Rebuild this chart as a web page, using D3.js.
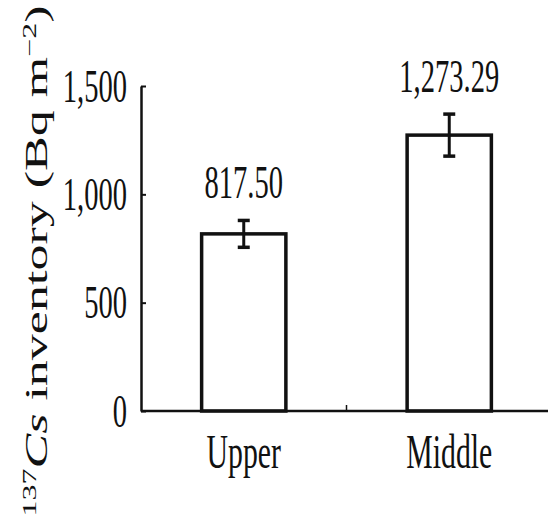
<!DOCTYPE html>
<html>
<head>
<meta charset="utf-8">
<script src="https://cdn.jsdelivr.net/npm/d3@7"></script>
<style>
  html, body { margin: 0; padding: 0; background: #fff; }
  svg { display: block; }
  text { font-family: "Liberation Serif", "Times New Roman", serif; fill: #111; }
</style>
</head>
<body>
<svg id="chart"></svg>
<script>
const categories = ['Upper', 'Middle'];
const values = [817.50, 1273.29];
const errors = [62, 97];
const yTicks = [0, 500, 1000, 1500];

const width = 548, height = 516;
const squash = 0.62; // the picture's text is narrow, like a squeezed Times

const svg = d3.select('#chart')
              .attr('width', width)
              .attr('height', height);

const x = d3.scaleBand().domain(categories).range([141, 552]).padding(0);
const y = d3.scaleLinear().domain([0, 1500]).range([411, 86]);
const barW = x.bandwidth() * 0.41;

// bars
svg.selectAll('rect.bar')
   .data(values)
   .enter().append('rect')
   .attr('class', 'bar')
   .attr('x', (d, i) => x(categories[i]) + x.bandwidth() / 2 - barW / 2)
   .attr('y', d => y(d))
   .attr('width', barW)
   .attr('height', d => y(0) - y(d))
   .style('fill', '#fff')
   .style('stroke', '#111')
   .style('stroke-width', 3.5);

// error bars
const eb = svg.selectAll('g.err')
              .data(values)
              .enter().append('g')
              .attr('class', 'err')
              .attr('transform', (d, i) => `translate(${x(categories[i]) + x.bandwidth() / 2}, 0)`);
eb.append('line')
  .attr('y1', (d, i) => y(d + errors[i]))
  .attr('y2', (d, i) => y(d - errors[i]))
  .style('stroke', '#111').style('stroke-width', 3);
eb.append('line')
  .attr('x1', -6).attr('x2', 6)
  .attr('y1', (d, i) => y(d + errors[i]))
  .attr('y2', (d, i) => y(d + errors[i]))
  .style('stroke', '#111').style('stroke-width', 3.5);
eb.append('line')
  .attr('x1', -6).attr('x2', 6)
  .attr('y1', (d, i) => y(d - errors[i]))
  .attr('y2', (d, i) => y(d - errors[i]))
  .style('stroke', '#111').style('stroke-width', 3.5);

// value labels
svg.selectAll('text.val')
   .data(values)
   .enter().append('text')
   .attr('class', 'val')
   .attr('transform', (d, i) =>
         `translate(${x(categories[i]) + x.bandwidth() / 2}, ${y(d + errors[i]) - 22}) scale(${squash},1)`)
   .style('text-anchor', 'middle')
   .style('font-size', '46px')
   .text(d => d3.format(',.2f')(d));

// y axis
const yAxis = svg.append('g')
   .attr('class', 'y-axis')
   .attr('transform', 'translate(141,0)')
   .call(d3.axisRight(y).tickValues(yTicks).tickSize(5).tickSizeOuter(0).tickFormat(d3.format(',')));
yAxis.select('.domain').style('stroke', '#111').style('stroke-width', 2.5);
yAxis.selectAll('.tick line').style('stroke', '#111').style('stroke-width', 2);
yAxis.selectAll('.tick text')
     .attr('x', -14 / squash)
     .attr('dy', '0.33em')
     .attr('transform', `scale(${squash},1)`)
     .style('text-anchor', 'end')
     .style('font-size', '46px')
     .style('font-family', '"Liberation Serif", serif')
     .style('fill', '#111');

// x axis
const xAxis = svg.append('g')
   .attr('class', 'x-axis')
   .attr('transform', 'translate(0,' + y(0) + ')');
xAxis.append('line')
     .attr('x1', x.range()[0]).attr('x2', x.range()[1])
     .style('stroke', '#111').style('stroke-width', 2.5);
// small tick between the two groups
xAxis.append('line')
     .attr('x1', x(categories[1])).attr('x2', x(categories[1]))
     .attr('y1', 0).attr('y2', -6)
     .style('stroke', '#111').style('stroke-width', 1.5);
xAxis.selectAll('text.cat')
     .data(categories)
     .enter().append('text')
     .attr('class', 'cat')
     .attr('transform', d => `translate(${x(d) + x.bandwidth() / 2}, 57) scale(${squash},1)`)
     .style('text-anchor', 'middle')
     .style('font-size', '48px')
     .text(d => d);

// y axis title
const title = svg.append('text')
   .attr('transform', `translate(47, 261) scale(0.6,1) rotate(-90)`)
   .style('text-anchor', 'middle')
   .style('font-size', '52px');
title.append('tspan').attr('baseline-shift', 'super').style('font-size', '32px').text('137');
title.append('tspan').style('font-style', 'italic').text('Cs');
title.append('tspan').text(' inventory (Bq m');
title.append('tspan').attr('baseline-shift', 'super').style('font-size', '32px').text('−2');
title.append('tspan').text(')');
</script>
</body>
</html>
